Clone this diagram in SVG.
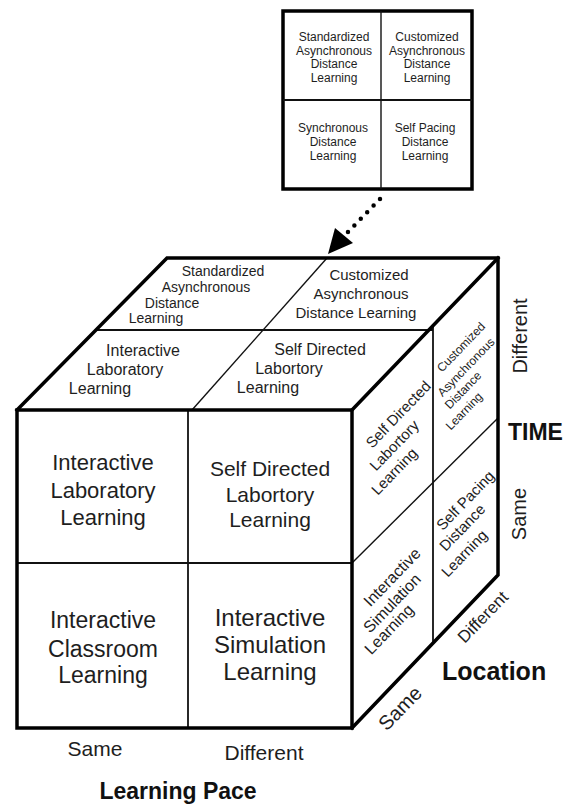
<svg xmlns="http://www.w3.org/2000/svg" width="573" height="805" viewBox="0 0 573 805">
  <defs>
    <style>
      text { font-family: "Liberation Sans", Arial, sans-serif; fill: #1e1e1e; text-anchor: middle; }
      .b { font-weight: bold; fill: #111; }
      .edge { stroke: #000; stroke-width: 3.5; fill: none; stroke-linecap: square; stroke-linejoin: miter; }
      .div { stroke: #111; stroke-width: 1.8; fill: none; }
      .thin { stroke: #111; stroke-width: 1.4; fill: none; }
      .dots { stroke: #000; stroke-width: 4.5; stroke-linecap: round; stroke-dasharray: 0 9.2; fill: none; }
    </style>
  </defs>
  <rect width="573" height="805" fill="#fff"/>

  <!-- legend square: the four kinds of distance learning -->
  <g id="legend">
    <rect x="283" y="11" width="189" height="178" class="edge" stroke-width="4"/>
    <line x1="381" y1="11" x2="381" y2="189" class="thin"/>
    <line x1="283" y1="100" x2="472" y2="100" class="div"/>
    <g font-size="12">
      <text x="334" y="41">Standardized</text>
      <text x="334" y="54.5">Asynchronous</text>
      <text x="334" y="68">Distance</text>
      <text x="334" y="81.5">Learning</text>
      <text x="427" y="41">Customized</text>
      <text x="427" y="54.5">Asynchronous</text>
      <text x="427" y="68">Distance</text>
      <text x="427" y="81.5">Learning</text>
      <text x="333" y="132">Synchronous</text>
      <text x="333" y="146">Distance</text>
      <text x="333" y="160">Learning</text>
      <text x="425" y="132">Self Pacing</text>
      <text x="425" y="146">Distance</text>
      <text x="425" y="160">Learning</text>
    </g>
  </g>

  <!-- connector from the legend down to the cube's top face -->
  <g id="connectors">
    <line x1="380" y1="199" x2="347" y2="233" class="dots"/>
    <polygon points="328,254 335,228 353,243" fill="#000"/>
  </g>

  <!-- cube: inner dividers -->
  <g id="cube-dividers">
    <line x1="96" y1="330" x2="433" y2="330" class="div"/>
    <line x1="192" y1="410" x2="327" y2="258" class="thin"/>
    <line x1="188" y1="410" x2="188" y2="728" class="div"/>
    <line x1="17" y1="563" x2="352" y2="563" class="div"/>
    <line x1="433" y1="327" x2="433" y2="642" class="div"/>
    <line x1="352" y1="563" x2="498" y2="418" class="thin"/>
  </g>

  <!-- cube: outer edges -->
  <g id="cube-edges">
    <rect x="17" y="410" width="335" height="318" class="edge"/>
    <polyline points="17,410 167,258 498,258 498,575 352,728" class="edge"/>
    <line x1="352" y1="410" x2="498" y2="258" class="edge"/>
  </g>

  <!-- top face cells -->
  <g id="top-standardized" font-size="14">
    <text x="223" y="276">Standardized</text>
    <text x="206" y="292">Asynchronous</text>
    <text x="172" y="307.5">Distance</text>
    <text x="156" y="323">Learning</text>
  </g>
  <g id="top-customized" font-size="15">
    <text x="369" y="280">Customized</text>
    <text x="361" y="299">Asynchronous</text>
    <text x="356" y="318">Distance Learning</text>
  </g>
  <g id="top-interactive-lab" font-size="16">
    <text x="143" y="356">Interactive</text>
    <text x="125" y="375">Laboratory</text>
    <text x="100" y="394">Learning</text>
  </g>
  <g id="top-self-directed" font-size="16">
    <text x="320" y="355">Self Directed</text>
    <text x="289" y="374">Labortory</text>
    <text x="268" y="393">Learning</text>
  </g>

  <!-- front face cells -->
  <g id="front-interactive-lab" font-size="22">
    <text x="103" y="470">Interactive</text>
    <text x="103" y="498">Laboratory</text>
    <text x="103" y="525">Learning</text>
  </g>
  <g id="front-self-directed" font-size="21">
    <text x="270" y="476">Self Directed</text>
    <text x="270" y="502">Labortory</text>
    <text x="270" y="527">Learning</text>
  </g>
  <g id="front-classroom" font-size="23">
    <text x="103" y="628">Interactive</text>
    <text x="103" y="657">Classroom</text>
    <text x="103" y="683">Learning</text>
  </g>
  <g id="front-simulation" font-size="24">
    <text x="270" y="626">Interactive</text>
    <text x="270" y="653">Simulation</text>
    <text x="270" y="680">Learning</text>
  </g>

  <!-- right face cells (slanted lines, stacked along the vertical edge) -->
  <g id="side-self-directed" font-size="15">
    <text transform="translate(402,418) rotate(-46)">Self Directed</text>
    <text transform="translate(398,449) rotate(-46)">Labortory</text>
    <text transform="translate(398,475) rotate(-46)">Learning</text>
  </g>
  <g id="side-customized" font-size="12">
    <text transform="translate(464,350) rotate(-46)">Customized</text>
    <text transform="translate(469,370) rotate(-46)">Asynchronous</text>
    <text transform="translate(466,393) rotate(-46)">Distance</text>
    <text transform="translate(467,414) rotate(-46)">Learning</text>
  </g>
  <g id="side-simulation" font-size="16">
    <text transform="translate(396,581) rotate(-46)">Interactive</text>
    <text transform="translate(396,607) rotate(-46)">Simulation</text>
    <text transform="translate(393,633) rotate(-46)">Learning</text>
  </g>
  <g id="side-self-pacing" font-size="15">
    <text transform="translate(469,504) rotate(-46)">Self Pacing</text>
    <text transform="translate(466,531) rotate(-46)">Distance</text>
    <text transform="translate(468,557) rotate(-46)">Learning</text>
  </g>

  <!-- axis labels -->
  <g id="axis-pace">
    <text x="95" y="756" font-size="21">Same</text>
    <text x="264" y="760" font-size="21">Different</text>
    <text x="178" y="799" font-size="23" class="b">Learning Pace</text>
  </g>
  <g id="axis-time">
    <text transform="translate(527,336) rotate(-90)" font-size="20">Different</text>
    <text x="508" y="440" font-size="23" class="b" style="text-anchor:start">TIME</text>
    <text transform="translate(526,514) rotate(-90)" font-size="20">Same</text>
  </g>
  <g id="axis-location">
    <text transform="translate(487,621) rotate(-46)" font-size="17">Different</text>
    <text transform="translate(405,713) rotate(-46)" font-size="20">Same</text>
    <text x="442" y="680" font-size="25" class="b" style="text-anchor:start">Location</text>
  </g>
</svg>
